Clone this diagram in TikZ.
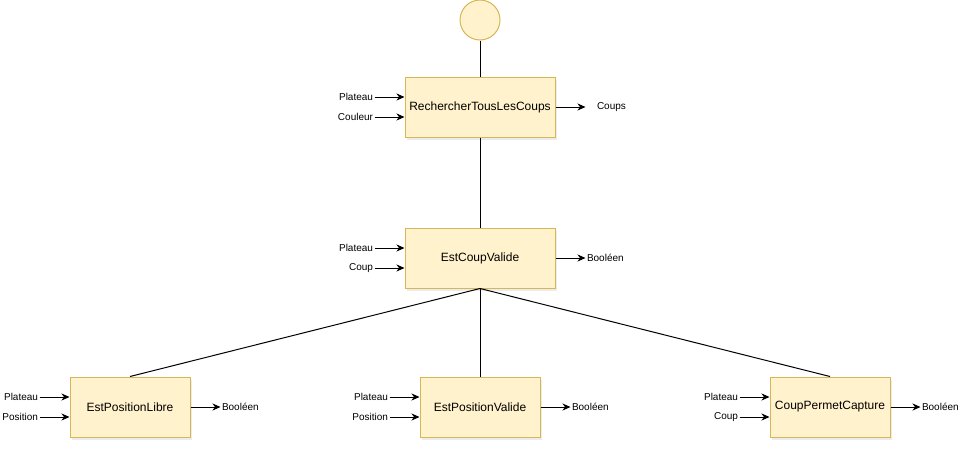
\documentclass[tikz,border=0pt]{standalone}
\usepackage{fontspec}
\setmainfont{Liberation Sans}
\usetikzlibrary{arrows.meta,positioning,shadows}
\definecolor{boxfill}{HTML}{FFF2CC}
\definecolor{boxline}{HTML}{D6B656}
\begin{document}
\begin{tikzpicture}[x=1pt,y=-1pt,line width=1pt,
 fn/.style={draw=boxline,fill=boxfill,minimum width=150pt,minimum height=60pt,inner sep=2pt,
   font=\fontsize{12}{14}\selectfont,drop shadow={shadow xshift=2pt,shadow yshift=-3pt,opacity=0.15}},
 io/.style={font=\fontsize{10}{12}\selectfont,inner sep=1pt},
 arr/.style={-{Stealth[length=8pt,width=7pt,inset=2.5pt]}}]
\useasboundingbox (0,0) rectangle (973,450);
% main functions
\node[circle,draw=boxline,fill=boxfill,minimum size=40pt,inner sep=0pt] (start) at (480,20) {};
\node[fn] (rech) at (480,107) {RechercherTousLesCoups};
\node[fn] (valide) at (480,258) {EstCoupValide};
\node[fn,minimum width=120pt] (libre) at (130,407) {EstPositionLibre};
\node[fn,minimum width=120pt] (posval) at (480,407) {EstPositionValide};
\node[fn,minimum width=120pt] (capt) at (830,407) {CoupPermetCapture};
% call tree
\draw (start) -- (rech);
\draw (rech) -- (valide);
\draw (valide.south) -- (libre.north);
\draw (valide.south) -- (posval.north);
\draw (valide.south) -- (capt.north);
% parameters
\foreach \b/\i/\j in {rech/Plateau/Couleur,valide/Plateau/Coup,libre/Plateau/Position,posval/Plateau/Position,capt/Plateau/Coup}{
  \node[io,anchor=east] (\b-in1) at ([xshift=-30pt,yshift=10pt]\b.west) {\i};
  \node[io,anchor=east] (\b-in2) at ([xshift=-30pt,yshift=-10pt]\b.west) {\j};
  \draw[arr] (\b-in1) -- (\b-in1 -| \b.west);
  \draw[arr] (\b-in2) -- (\b-in2 -| \b.west);
}
% results
\coordinate (rech-end) at ([xshift=30pt]rech.east);
\node[io,anchor=west] (coups) at ([xshift=10pt]rech-end) {Coups};
\draw[arr] (rech.east) -- (rech-end);
\foreach \b in {valide,libre,posval,capt}{
  \node[io,anchor=west] (\b-out) at ([xshift=30pt]\b.east) {Booléen};
  \draw[arr] (\b.east) -- (\b-out);
}
\end{tikzpicture}
\end{document}
